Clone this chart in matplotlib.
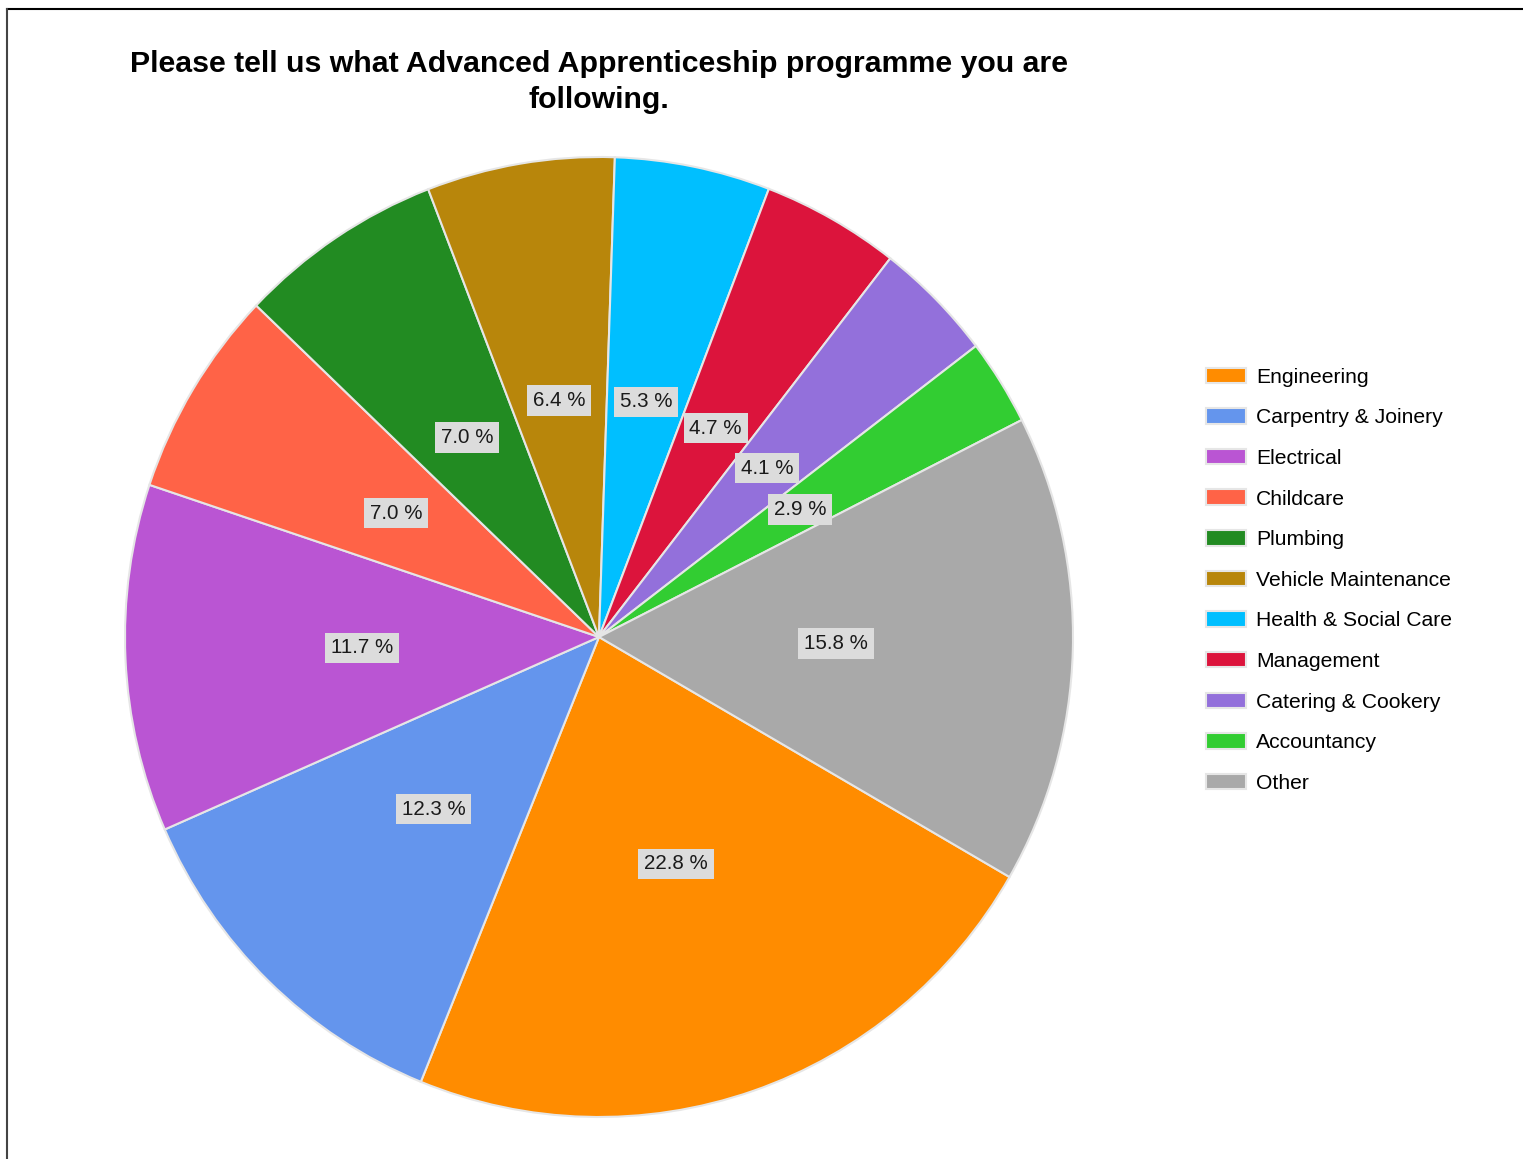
import matplotlib.pyplot as plt
from matplotlib.lines import Line2D

categories = ["Engineering", "Carpentry & Joinery", "Electrical", "Childcare",
              "Plumbing", "Vehicle Maintenance", "Health & Social Care",
              "Management", "Catering & Cookery", "Accountancy", "Other"]
percent = [22.8, 12.3, 11.7, 7.0, 7.0, 6.4, 5.3, 4.7, 4.1, 2.9, 15.8]
colors = ["#FF8C00", "#6495ED", "#BA55D3", "#FF6347", "#228B22", "#B8860B",
          "#00BFFF", "#DC143C", "#9370DB", "#32CD32", "#A9A9A9"]

W, H = 1523, 1159
fig = plt.figure(figsize=(W / 100, H / 100), dpi=100)

# pie area (slightly taller than wide, as in the original)
cx, cy, rx, ry = 599, 637, 474, 480
ax = fig.add_axes([(cx - rx) / W, (H - cy - ry) / H, 2 * rx / W, 2 * ry / H])

wedges, texts, autotexts = ax.pie(
    percent, colors=colors, startangle=-30, counterclock=False,
    autopct=lambda p: f"{p:.1f} %", pctdistance=0.5,
    wedgeprops=dict(edgecolor="#e6e6e6", linewidth=1.5),
    textprops=dict(fontsize=14.8, family="Liberation Sans", color="#1a1a1a"))
for t in autotexts:
    t.set_bbox(dict(facecolor="#dcdcdc", edgecolor="none", pad=4.2))
ax.set_xlim(-1, 1)
ax.set_ylim(-1, 1)
ax.set_aspect("auto")

fig.text(cx / W, 1 - 82 / H,
         "Please tell us what Advanced Apprenticeship programme you are\nfollowing.",
         ha="center", va="center", fontsize=21.8, fontweight="bold",
         family="Liberation Sans", linespacing=1.32)

fig.legend(wedges, categories, loc="upper left",
           bbox_to_anchor=(1195 / W, 1 - 357 / H), frameon=False,
           prop=dict(family="Liberation Sans", size=15.2),
           handlelength=1.9, handleheight=0.75, handletextpad=0.5,
           labelspacing=1.02, borderpad=0)

# frame lines at top and left
fig.add_artist(Line2D([7 / W, 1], [1 - 9 / H, 1 - 9 / H], color="black", lw=1.5))
fig.add_artist(Line2D([7 / W, 7 / W], [0, 1 - 9 / H], color="#444444", lw=1.5))

fig.savefig("out.png", dpi=100)
